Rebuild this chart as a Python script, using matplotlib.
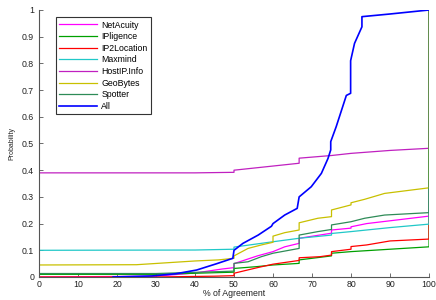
import matplotlib
matplotlib.use('Agg')
import matplotlib.pyplot as plt

# one (x, y) list per database
names = ['NetAcuity', 'IPligence', 'IP2Location', 'Maxmind', 'HostIP.Info', 'GeoBytes', 'Spotter', 'All']
colors = ['#ff00ff', '#00a000', '#ff0000', '#20c8c8', '#c020c0', '#c8c000', '#2e8b57', '#0000ff']

netacuity_x = [0, 30, 40, 47, 50, 50, 56, 60, 63, 66.7, 66.7, 75, 75, 80, 80, 84, 100, 100]
netacuity_y = [0.0, 0.003, 0.015, 0.03, 0.035, 0.05, 0.079, 0.095, 0.113, 0.126, 0.145, 0.164, 0.176, 0.183, 0.188, 0.2, 0.228, 1.0]

ipligence_x = [0, 30, 45, 50, 50, 56, 60, 66.7, 66.7, 75, 75, 80, 90, 100, 100]
ipligence_y = [0.01, 0.01, 0.016, 0.018, 0.032, 0.039, 0.045, 0.051, 0.064, 0.079, 0.089, 0.095, 0.104, 0.113, 1.0]

ip2location_x = [0, 30, 45, 50, 50, 56, 60, 66.7, 66.7, 72, 75, 75, 80, 80, 84, 90, 100, 100]
ip2location_y = [0.0, 0.0, 0.003, 0.005, 0.014, 0.035, 0.048, 0.062, 0.072, 0.076, 0.082, 0.095, 0.104, 0.114, 0.12, 0.135, 0.142, 1.0]

maxmind_x = [0, 40, 50, 50, 60, 66.7, 75, 75, 80, 90, 100, 100]
maxmind_y = [0.1, 0.101, 0.104, 0.112, 0.132, 0.145, 0.157, 0.163, 0.17, 0.185, 0.198, 1.0]

hostip_x = [0, 40, 50, 50, 66.7, 66.7, 75, 80, 90, 100, 100]
hostip_y = [0.39, 0.39, 0.392, 0.4, 0.426, 0.445, 0.455, 0.463, 0.474, 0.482, 1.0]

geobytes_x = [0, 25, 40, 46, 50, 50, 53.6, 57, 60, 60, 63, 66.7, 66.7, 71.5, 75, 75, 80, 80, 83.5, 88.6, 100, 100]
geobytes_y = [0.045, 0.046, 0.06, 0.064, 0.07, 0.079, 0.107, 0.12, 0.13, 0.153, 0.166, 0.176, 0.203, 0.22, 0.226, 0.251, 0.27, 0.278, 0.291, 0.313, 0.334, 1.0]

spotter_x = [0, 30, 46, 50, 50, 53.6, 57, 60, 66.7, 66.7, 71.5, 75, 75, 80, 83.5, 88.6, 100, 100]
spotter_y = [0.013, 0.013, 0.02, 0.022, 0.051, 0.057, 0.076, 0.089, 0.107, 0.157, 0.17, 0.178, 0.195, 0.207, 0.22, 0.232, 0.241, 1.0]

all_x = [19, 29, 35, 40.4, 45.6, 49.7, 50, 52.3, 56.2, 59.6, 60, 63, 66.2, 66.7, 69.8, 72.4, 74.1, 74.8, 74.8, 76.2, 78.8, 79.9, 79.9, 80.9, 82.8, 82.8, 90, 100]
all_y = [0, 0.004, 0.012, 0.026, 0.05, 0.07, 0.10, 0.126, 0.157, 0.19, 0.2, 0.232, 0.257, 0.30, 0.338, 0.388, 0.444, 0.476, 0.507, 0.563, 0.68, 0.688, 0.81, 0.875, 0.937, 0.975, 0.985, 1.0]

series = [(netacuity_x, netacuity_y), (ipligence_x, ipligence_y), (ip2location_x, ip2location_y),
          (maxmind_x, maxmind_y), (hostip_x, hostip_y), (geobytes_x, geobytes_y),
          (spotter_x, spotter_y), (all_x, all_y)]

plt.rcParams['font.family'] = ['Liberation Sans', 'DejaVu Sans']

fig = plt.figure(figsize=(4.36, 3.0), dpi=100)
ax = fig.add_axes([0.0894, 0.0767, 0.8946, 0.89])

for (xs, ys), name, c in zip(series, names, colors):
    lw = 1.2 if name == 'All' else 0.9
    ax.plot(xs, ys, color=c, lw=lw, label=name)

ax.set_xlim(0, 100)
ax.set_ylim(0, 1)
ax.set_xticks(range(0, 101, 10))
ax.set_yticks([i / 10 for i in range(11)])
ax.set_yticklabels(['0', '0.1', '0.2', '0.3', '0.4', '0.5', '0.6', '0.7', '0.8', '0.9', '1'])

for s in ['top', 'right']:
    ax.spines[s].set_visible(False)
for s in ['left', 'bottom']:
    ax.spines[s].set_color('#555555')
    ax.spines[s].set_linewidth(0.8)
ax.tick_params(direction='in', length=3, width=0.6, colors='#555555', labelcolor='#222222', labelsize=6.3)
ax.tick_params(axis='x', pad=2)

ax.set_xlabel('% of Agreement', fontsize=6.3, color='#222222', labelpad=0)
ax.set_ylabel('Probability', fontsize=5, color='#222222', labelpad=5)

leg = ax.legend(loc='upper left', bbox_to_anchor=(0.032, 0.99), fontsize=6.3, handlelength=4.3,
                labelspacing=0.3, borderpad=0.4, handletextpad=0.5, fancybox=False,
                framealpha=1)
leg.get_frame().set_edgecolor('#333333')
leg.get_frame().set_linewidth(0.8)

fig.savefig('out.png', dpi=100)
